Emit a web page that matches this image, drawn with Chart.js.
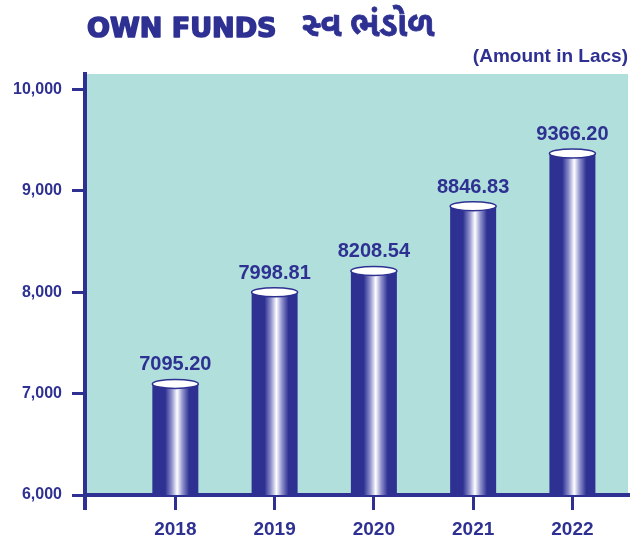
<!DOCTYPE html>
<html>
<head>
<meta charset="utf-8">
<script src="https://cdn.jsdelivr.net/npm/chart.js@4/dist/chart.umd.min.js"></script>
<style>
  body { margin: 0; background: #fff; }
  canvas { display: block; }
</style>
</head>
<body>
<canvas id="fundsChart" width="640" height="539"></canvas>
<script>
// data
const years = [2018, 2019, 2020, 2021, 2022];
const ownFunds = [7095.20, 7998.81, 8208.54, 8846.83, 9366.20];
const yTicks = [6000, 7000, 8000, 9000, 10000];
const titleText = 'OWN FUNDS';
const titleGu = 'સ્વ ભંડોળ';
const unitText = '(Amount in Lacs)';

const BLUE = '#2e3192';
const TEAL = '#b0dfdc';

// plot background
const backdrop = {
    id: 'backdrop',
    beforeDraw(chart) {
        const { ctx, chartArea: a } = chart;
        ctx.save();
        ctx.fillStyle = '#fff';
        ctx.fillRect(0, 0, chart.width, chart.height);
        ctx.fillStyle = TEAL;
        ctx.fillRect(a.left, a.top, a.right - a.left, a.bottom - a.top);
        ctx.restore();
    }
};

// cylinder bars + value labels
const cylinders = {
    id: 'cylinders',
    afterDatasetsDraw(chart) {
        const { ctx, chartArea: a } = chart;
        const meta = chart.getDatasetMeta(0);
        ctx.save();
        meta.data.forEach((bar, i) => {
            const w = bar.width;
            const left = bar.x - w / 2;
            const bottom = Math.min(bar.base, a.bottom);
            const g = ctx.createLinearGradient(left, 0, left + w, 0);
            g.addColorStop(0, BLUE);
            g.addColorStop(0.28, BLUE);
            g.addColorStop(0.42, '#8e90cc');
            g.addColorStop(0.54, '#ffffff');
            g.addColorStop(0.66, '#8e90cc');
            g.addColorStop(0.8, BLUE);
            g.addColorStop(1, BLUE);
            ctx.fillStyle = g;
            ctx.fillRect(left, bar.y, w, bottom - bar.y);

            ctx.beginPath();
            ctx.ellipse(bar.x, bar.y, w / 2, 4.5, 0, 0, Math.PI * 2);
            ctx.fillStyle = '#fff';
            ctx.fill();
            ctx.lineWidth = 1.5;
            ctx.strokeStyle = BLUE;
            ctx.stroke();

            ctx.fillStyle = BLUE;
            ctx.font = 'bold 20px "Liberation Sans", Arial, sans-serif';
            ctx.textAlign = 'center';
            ctx.textBaseline = 'middle';
            ctx.fillText(ownFunds[i].toFixed(2), bar.x, bar.y - 19);
        });
        ctx.restore();
    }
};

// headings and axis stub below the x axis
const extras = {
    id: 'extras',
    afterDraw(chart) {
        const { ctx, chartArea: a } = chart;
        ctx.save();
        ctx.fillStyle = BLUE;
        ctx.strokeStyle = BLUE;
        ctx.lineJoin = 'round';
        ctx.textBaseline = 'alphabetic';
        ctx.textAlign = 'left';
        // heavier look for the heading
        ctx.font = 'bold 27px "DejaVu Sans", sans-serif';
        ctx.lineWidth = 1.6;
        ctx.fillText(titleText, 87, 37);
        ctx.strokeText(titleText, 87, 37);
        ctx.font = 'bold 34px "Noto Sans Gujarati", "Noto Sans", sans-serif';
        ctx.lineWidth = 0.8;
        ctx.fillText(titleGu, 302, 36);
        ctx.strokeText(titleGu, 302, 36);
        ctx.textAlign = 'right';
        ctx.font = 'bold 19px "Liberation Sans", Arial, sans-serif';
        ctx.fillText(unitText, a.right, 62);

        ctx.lineWidth = 4;
        ctx.beginPath();
        ctx.moveTo(a.left, a.bottom);
        ctx.lineTo(a.left, a.bottom + 15);
        ctx.stroke();
        ctx.restore();
    }
};

new Chart(document.getElementById('fundsChart'), {
    type: 'bar',
    data: {
        datasets: [{
            data: years.map((y, i) => ({ x: y, y: ownFunds[i] })),
            backgroundColor: 'rgba(0,0,0,0)',
            borderWidth: 0,
            barThickness: 46
        }]
    },
    options: {
        responsive: false,
        animation: false,
        devicePixelRatio: 1,
        layout: { padding: { top: 74, right: 12, left: 0, bottom: 0 } },
        plugins: {
            legend: { display: false },
            tooltip: { enabled: false }
        },
        scales: {
            x: {
                type: 'linear',
                min: 2017.09,
                max: 2022.56,
                offset: false,
                afterBuildTicks: axis => { axis.ticks = years.map(v => ({ value: v })); },
                afterFit: scale => { scale.height = 44; },
                ticks: {
                    color: BLUE,
                    padding: 8,
                    font: { family: '"Liberation Sans", Arial, sans-serif', size: 19, weight: 'bold' },
                    callback: v => String(v)
                },
                grid: {
                    offset: false,
                    drawOnChartArea: false,
                    color: BLUE,
                    lineWidth: 3,
                    tickLength: 15
                },
                border: { color: BLUE, width: 4 }
            },
            y: {
                min: 6000,
                max: 10150,
                afterBuildTicks: axis => { axis.ticks = yTicks.map(v => ({ value: v })); },
                afterFit: scale => { scale.width = 85; },
                ticks: {
                    color: BLUE,
                    padding: 10,
                    font: { family: '"Liberation Sans", Arial, sans-serif', size: 16, weight: 'bold' },
                    callback: v => v.toLocaleString('en-US')
                },
                grid: {
                    drawOnChartArea: false,
                    color: BLUE,
                    lineWidth: 3,
                    tickLength: 13
                },
                border: { color: BLUE, width: 4 }
            }
        }
    },
    plugins: [backdrop, cylinders, extras]
});
</script>
</body>
</html>
